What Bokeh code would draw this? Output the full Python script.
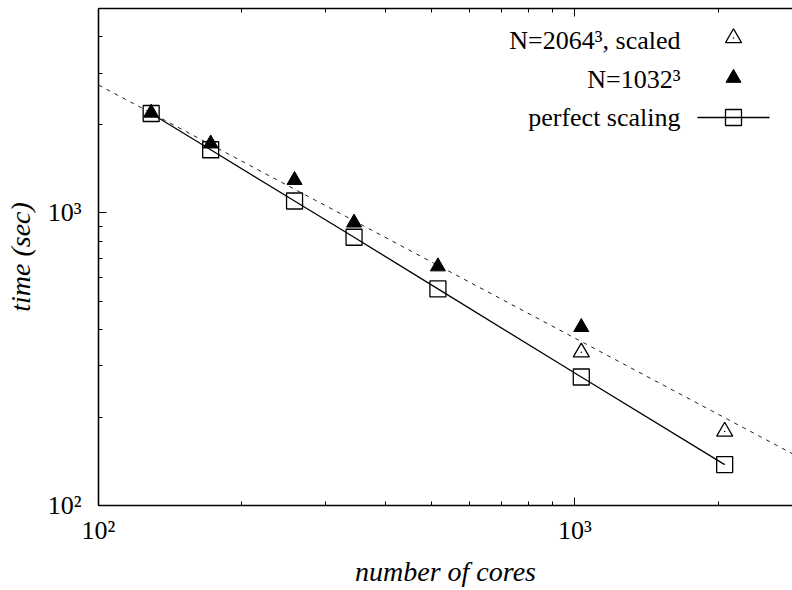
import math
import numpy as np
from bokeh.plotting import figure
from bokeh.models import Range1d, LogAxis, FixedTicker, CustomLabelingPolicy
from bokeh.core.properties import value
from bokeh.embed import file_html
from bokeh.resources import INLINE

# ---------------- data ----------------
cores = [129, 172, 258, 344, 516, 1032, 2064]
time_perfect = [2188, 1645, 1099, 826, 550, 275, 138]

cores_1032 = [129, 172, 258, 344, 516, 1032]
time_1032 = [2200, 1726, 1295, 926, 656, 407]

cores_2064 = [1032, 2064]
time_2064_scaled = [334, 179]

fit_prefactor = 1.47e5
fit_exponent = -0.865

x_major_ticks = [100, 1000]
x_major_labels = ["10²", "10³"]
x_minor_ticks = [200, 300, 400, 500, 600, 700, 800, 900, 2000]
y_major_ticks = [100, 1000]
y_major_labels = ["10²", "10³"]
y_minor_ticks = [200, 300, 400, 500, 600, 700, 800, 900, 2000, 3000, 4000, 5000]

legend_labels = ["N=2064³, scaled", "N=1032³", "perfect scaling"]

x_label = "number of cores"
y_label = "time (sec)"

# ---------------- layout ----------------
W, H = 792, 590
FRAME_L, FRAME_R, FRAME_T, FRAME_B = 98, 792, 8, 505
XMIN, XMAX = 100, 2865
YMIN, YMAX = 100, 5000
FONT = "Liberation Serif"


def px_to_x(px):
    f = (px - FRAME_L) / (FRAME_R - FRAME_L)
    return 10 ** (math.log10(XMIN) + f * (math.log10(XMAX) - math.log10(XMIN)))


def py_to_y(py):
    f = (FRAME_B - py) / (FRAME_B - FRAME_T)
    return 10 ** (math.log10(YMIN) + f * (math.log10(YMAX) - math.log10(YMIN)))


p = figure(width=W, height=H, x_axis_type="log", y_axis_type="log",
           x_range=Range1d(XMIN, XMAX), y_range=Range1d(YMIN, YMAX),
           output_backend="svg", toolbar_location=None,
           min_border_left=FRAME_L, min_border_right=W - FRAME_R,
           min_border_top=FRAME_T, min_border_bottom=H - FRAME_B)
p.grid.visible = False
p.outline_line_color = None
p.background_fill_color = "white"
p.border_fill_color = "white"


def style_axis(ax, ticks, minor, labels):
    ax.ticker = FixedTicker(ticks=ticks, minor_ticks=minor)
    ax.major_label_overrides = {t: l for t, l in zip(ticks, labels)}
    ax.axis_line_color = "black"
    ax.axis_line_width = 1.6
    ax.major_tick_line_color = "black"
    ax.minor_tick_line_color = "black"
    ax.major_tick_in = 8
    ax.major_tick_out = 0
    ax.minor_tick_in = 4
    ax.minor_tick_out = 0
    ax.major_label_text_font = FONT
    ax.major_label_text_font_size = "26px"
    ax.major_label_text_color = "black"
    ax.axis_label_text_font = FONT
    ax.axis_label_text_font_style = "italic"
    ax.axis_label_text_font_size = "28px"
    ax.axis_label_text_color = "black"


xa = p.xaxis[0]
style_axis(xa, x_major_ticks, x_minor_ticks, x_major_labels)
xa.axis_label = x_label
xa.major_label_standoff = 10
xa.axis_label_standoff = 8

ya = p.yaxis[0]
style_axis(ya, y_major_ticks, y_minor_ticks, y_major_labels)
ya.axis_label = y_label
ya.major_label_standoff = 17
ya.axis_label_standoff = 9

# mirrored ticks on top, no labels
top = LogAxis()
style_axis(top, x_major_ticks, x_minor_ticks, x_major_labels)
top.major_label_standoff = 0
top.major_label_text_font_size = "1px"
top.major_label_policy = CustomLabelingPolicy(code="""
    const all = [...indices]
    for (const i of all) indices.unset(i)
    return indices
""")
p.add_layout(top, "above")

# fit line (dashed)
x_fit = np.array([XMIN, XMAX], dtype=float)
p.line(x_fit, fit_prefactor * x_fit ** fit_exponent, line_color="#222222",
       line_width=1, line_dash="4 5")

# perfect scaling
p.line(cores, time_perfect, line_color="black", line_width=1.3)
p.scatter(cores, time_perfect, marker="square", size=16, fill_color=None,
          line_color="black", line_width=1.3)

# N=1032^3
p.scatter(cores_1032, time_1032, marker="triangle", size=15,
          fill_color="black", line_color="black", line_width=1)

# N=2064^3 scaled
p.scatter(cores_2064, time_2064_scaled, marker="triangle", size=16,
          fill_color=None, line_color="black", line_width=1.3)
p.scatter(cores_2064, time_2064_scaled, marker="circle", size=1.5,
          fill_color="black", line_color=None)

# ---------------- legend (gnuplot style: text, then key) ----------------
rows_px = [40, 79, 117]
key_rows_px = [37.5, 77.5, 117]
text_right_px = 680
key_px = 733
line_px = (697, 769)

p.text(x=[px_to_x(text_right_px)] * 3, y=[py_to_y(r) for r in rows_px],
       text=legend_labels, text_align="right", text_baseline="middle",
       text_font=value(FONT), text_font_size=value("26px"), text_color="black")

kx = px_to_x(key_px)
p.scatter([kx], [py_to_y(key_rows_px[0])], marker="triangle", size=16,
          fill_color=None, line_color="black", line_width=1.3)
p.scatter([kx], [py_to_y(key_rows_px[0])], marker="circle", size=1.5,
          fill_color="black", line_color=None)
p.scatter([kx], [py_to_y(key_rows_px[1])], marker="triangle", size=15,
          fill_color="black", line_color="black", line_width=1)
p.line([px_to_x(line_px[0]), px_to_x(line_px[1])],
       [py_to_y(key_rows_px[2])] * 2, line_color="black", line_width=1.3)
p.scatter([kx], [py_to_y(key_rows_px[2])], marker="square", size=16,
          fill_color=None, line_color="black", line_width=1.3)

open("out.html", "w").write(file_html(p, INLINE))
